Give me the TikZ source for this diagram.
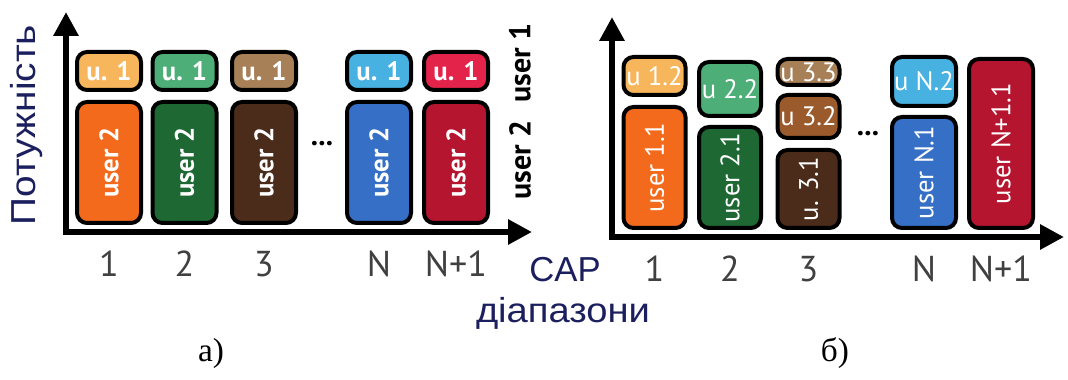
\documentclass[tikz,border=0pt]{standalone}
\usepackage{fontspec, graphicx}
\setmainfont{Liberation Sans}
\newfontfamily\boxfont{PT Sans}
\newfontfamily\capfont{Liberation Serif}
\usepackage{tikz}
\usetikzlibrary{arrows.meta}

\definecolor{lorange}{HTML}{F7B65C}
\definecolor{dorange}{HTML}{F36A1C}
\definecolor{lgreen}{HTML}{4DAE78}
\definecolor{dgreen}{HTML}{1D6833}
\definecolor{tan}{HTML}{A88058}
\definecolor{mbrown}{HTML}{9B5A2C}
\definecolor{dbrown}{HTML}{4B2C1B}
\definecolor{lblue}{HTML}{47B1E1}
\definecolor{dblue}{HTML}{3570C6}
\definecolor{pink}{HTML}{E4234B}
\definecolor{crimson}{HTML}{B5152F}
\definecolor{navy}{HTML}{1B1F5E}
\definecolor{digit}{HTML}{404040}

\begin{document}
\begin{tikzpicture}[x=0.75pt,y=0.75pt,
    axis/.style={line width=4.5pt,black,{Triangle[length=18pt,width=18pt]}-{Triangle[length=18pt,width=18pt]}},
    slot/.style={draw=black,line width=3pt,rounded corners=7.5pt,text=white,inner sep=0pt,
        minimum width=48pt,font=\boxfont\bfseries\fontsize{20}{20}\selectfont},
    thinslot/.style={slot,font=\boxfont\fontsize{20}{20}\selectfont},
    band/.style={font=\boxfont\fontsize{27}{27}\selectfont,text=digit},
    side/.style={font=\boxfont\bfseries\fontsize{22.5}{22.5}\selectfont,rotate=90},
    dots/.style={font=\boxfont\bfseries\fontsize{22}{22}\selectfont},
    label/.style={font=\fontsize{26}{26}\selectfont,text=navy}]
    \useasboundingbox (0,0) rectangle (1068,379);
    \coordinate (aorig) at (66,147);
    \coordinate (atop) at (66,367);
    \coordinate (aright) at (532,147);
    \coordinate (borig) at (612,142);
    \coordinate (btop) at (612,362);
    \coordinate (bright) at (1064,142);
    % draw axes
    \draw[axis] (atop) -- (aorig) -- (aright);
    \draw[axis] (btop) -- (borig) -- (bright);
    % panel a)
    \node[slot,fill=lorange,minimum height=28.5pt] (atop1) at (109,308) {u. 1};
    \node[slot,fill=lgreen,minimum height=28.5pt] (atop2) at (184.5,308) {u. 1};
    \node[slot,fill=tan,minimum height=28.5pt] (atop3) at (264,308) {u. 1};
    \node[slot,fill=lblue,minimum height=28.5pt] (atopn) at (379,308) {u. 1};
    \node[slot,fill=pink,minimum height=28.5pt] (atopm) at (456,308) {u. 1};
    \node[slot,fill=dorange,minimum height=90.75pt] (alow1) at (109,216.5) {\rotatebox{90}{user 2}};
    \node[slot,fill=dgreen,minimum height=90.75pt] (alow2) at (184.5,216.5) {\rotatebox{90}{user 2}};
    \node[slot,fill=dbrown,minimum height=90.75pt] (alow3) at (264,216.5) {\rotatebox{90}{user 2}};
    \node[slot,fill=dblue,minimum height=90.75pt] (alown) at (379,216.5) {\rotatebox{90}{user 2}};
    \node[slot,fill=crimson,minimum height=90.75pt] (alowm) at (456,216.5) {\rotatebox{90}{user 2}};
    \node[dots] (adots) at (322,235) {...};
    \node[side] (user1) at (520,316) {user 1};
    \node[side] (user2) at (520,219) {user 2};
    \node[band] (aband1) at (109,115) {1};
    \node[band] (aband2) at (184.5,115) {2};
    \node[band] (aband3) at (264,115) {3};
    \node[band] (abandn) at (379,115) {N};
    \node[band] (abandm) at (456,115) {N+1};
    % panel b)
    \node[thinslot,fill=lorange,minimum width=46.5pt,minimum height=28.5pt] (bup1) at (654.5,303) {u 1.2};
    \node[thinslot,fill=dorange,minimum width=46.5pt,minimum height=90.75pt] (blow1) at (654.5,211.5) {\rotatebox{90}{user 1.1}};
    \node[thinslot,fill=lgreen,minimum width=46.5pt,minimum height=40.5pt] (bup2) at (730,290) {u 2.2};
    \node[thinslot,fill=dgreen,minimum width=46.5pt,minimum height=75.75pt] (blow2) at (730,201.5) {\rotatebox{90}{user 2.1}};
    \node[thinslot,fill=tan,minimum width=46.5pt,minimum height=19.5pt] (bup3) at (808.5,307) {u 3.3};
    \node[thinslot,fill=mbrown,minimum width=46.5pt,minimum height=32.25pt] (bmid3) at (808.5,262.5) {u 3.2};
    \node[thinslot,fill=dbrown,minimum width=46.5pt,minimum height=58.5pt] (blow3) at (808.5,190) {\rotatebox{90}{u. 3.1}};
    \node[thinslot,fill=lblue,minimum height=36.75pt] (bupn) at (924,297.5) {u N.2};
    \node[thinslot,fill=dblue,minimum height=83.25pt] (blown) at (924,206.5) {\rotatebox{90}{user N.1}};
    \node[thinslot,fill=crimson,minimum height=126.75pt] (blowm) at (1001,235.5) {\rotatebox{90}{user N+1.1}};
    \node[dots] (bdots) at (868,245) {...};
    \node[band] (bband1) at (654.5,110) {1};
    \node[band] (bband2) at (730,110) {2};
    \node[band] (bband3) at (808.5,110) {3};
    \node[band] (bbandn) at (924,110) {N};
    \node[band] (bbandm) at (1001,110) {N+1};
    % axis titles
    \node[label,rotate=90] (power) at (27,254) {\scalebox{1.12}[1]{Потужність}};
    \node[label] (cap) at (565,109) {CAP};
    \node[label] (ranges) at (563,66) {\scalebox{1.1}[1]{діапазони}};
    \node[font=\capfont\fontsize{25}{25}\selectfont] (capa) at (211,26) {а)};
    \node[font=\capfont\fontsize{25}{25}\selectfont] (capb) at (835,26) {б)};
\end{tikzpicture}
\end{document}
